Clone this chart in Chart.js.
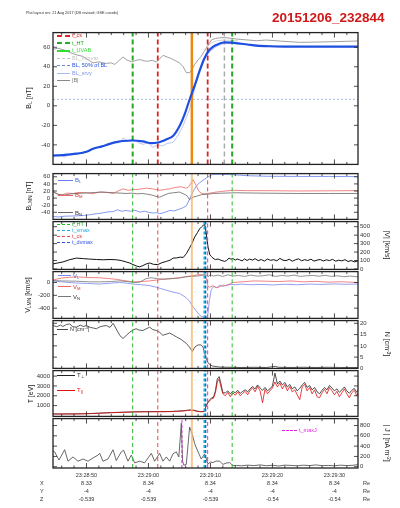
<!DOCTYPE html>
<html>
<head>
<meta charset="utf-8">
<script src="https://cdn.jsdelivr.net/npm/chart.js@4.4.1/dist/chart.umd.min.js"></script>
<style>
  body { margin: 0; background: #fff; }
  #page { position: relative; width: 400px; height: 508px; overflow: hidden; background: #fff;
          font-family: "Liberation Sans", Arial, sans-serif; }
  canvas { position: absolute; left: 0; }
  #over { position: absolute; left: 0; top: 0; width: 400px; height: 508px; z-index: 2; }
  .t { position: absolute; white-space: nowrap; line-height: 1; }
  .lg { position: absolute; white-space: nowrap; font-size: 5.5px; line-height: 6px; }
  .lg i { display: inline-block; vertical-align: middle; width: 13px; height: 0; margin-right: 2px; }
  .yl, .yr { position: absolute; white-space: nowrap; font-size: 7px; line-height: 1; color: #222; }
  .yl { transform: translate(-50%, -50%) rotate(-90deg); }
  .yr { transform: translate(-50%, -50%) rotate(90deg); }
  sub { font-size: 70%; vertical-align: -0.3em; line-height: 0; }
  sup { font-size: 70%; vertical-align: 0.45em; line-height: 0; }
</style>
</head>
<body>
<div id="page">
  <div id="over">
    <div class="t" style="left:26px;top:12px;font-size:3.8px;color:#333">Plot layout rev: 21 Aug 2017 (DB revised; GSE coords)</div>
    <div class="t" style="left:272px;top:11px;font-size:13.5px;font-weight:bold;color:#d01818">20151206_232844</div>

    <!-- panel 1 legend -->
    <div class="lg" style="left:57px;top:32px;color:#dd2222"><i style="border-top:2px dashed #dd2222"></i>t_cs</div>
    <div class="lg" style="left:57px;top:39.5px;color:#22aa22"><i style="border-top:2px dashed #22aa22"></i>t_HT</div>
    <div class="lg" style="left:57px;top:47px;color:#33dd33"><i style="border-top:2px solid #33dd33"></i>t_UVAB</div>
    <div class="lg" style="left:57px;top:54.5px;color:#c4c4c4"><i style="border-top:1.5px dashed #c4c4c4"></i>BL_minvar</div>
    <div class="lg" style="left:57px;top:62px;color:#2050d8"><i style="border-top:1px dashed #6f86dd"></i>BL, 50% of BL</div>
    <div class="lg" style="left:57px;top:69.5px;color:#7f95e6"><i style="border-top:1px solid #a8b8f0"></i>BL_srvy</div>
    <div class="lg" style="left:57px;top:77px;color:#777"><i style="border-top:1px solid #888"></i>|B|</div>

    <!-- panel 2 legend -->
    <div class="lg" style="left:58px;top:177px;color:#4466dd;font-size:6px"><i style="border-top:1px solid #6680ee;width:15px"></i>B<sub>L</sub></div>
    <div class="lg" style="left:58px;top:192px;color:#dd3333;font-size:6px"><i style="border-top:1px solid #ee6666;width:15px"></i>B<sub>M</sub></div>
    <div class="lg" style="left:58px;top:209.5px;color:#333;font-size:6px"><i style="border-top:1px solid #666;width:15px"></i>B<sub>N</sub></div>

    <!-- panel 3 legend -->
    <div class="lg" style="left:57px;top:221px;color:#22aa22"><i style="border-top:1.5px dashed #2eb82e"></i>t_HT</div>
    <div class="lg" style="left:57px;top:227px;color:#1fa8d8"><i style="border-top:1.5px dashed #1fb0e0"></i>t_vmax</div>
    <div class="lg" style="left:57px;top:233px;color:#dd3333"><i style="border-top:1.5px dashed #e84a4a"></i>t_cs</div>
    <div class="lg" style="left:57px;top:239px;color:#3050e0"><i style="border-top:1.5px dashed #3050e0"></i>t_dvmax</div>

    <!-- panel 4 legend -->
    <div class="lg" style="left:58px;top:272.5px;color:#4466dd;font-size:6px"><i style="border-top:1px solid #7788ee"></i>V<sub>L</sub></div>
    <div class="lg" style="left:58px;top:283.5px;color:#dd3333;font-size:6px"><i style="border-top:1px solid #ee6666"></i>V<sub>M</sub></div>
    <div class="lg" style="left:58px;top:293.5px;color:#333;font-size:6px"><i style="border-top:1px solid #777"></i>V<sub>N</sub></div>

    <!-- panel 5 legend -->
    <div class="lg" style="left:57px;top:326px;color:#333"><i style="border-top:1px solid #444;width:11px"></i>N [cm<sup>-3</sup>]</div>

    <!-- panel 6 legend -->
    <div class="lg" style="left:57px;top:372px;color:#222;font-size:6px"><i style="border-top:1px solid #222;width:18px"></i>T<sub>&perp;</sub></div>
    <div class="lg" style="left:57px;top:387px;color:#e01010;font-size:6px"><i style="border-top:1px solid #e01010;width:18px"></i>T<sub>||</sub></div>

    <!-- panel 7 legend -->
    <div class="lg" style="left:282px;top:427px;color:#e020e0"><i style="border-top:1px dashed #e020e0;width:15px"></i>t_maxJ</div>

    <!-- axis titles -->
    <div class="yl" style="left:28px;top:98px">B<sub>L</sub> [nT]</div>
    <div class="yl" style="left:28px;top:196px">B<sub>LMN</sub> [nT]</div>
    <div class="yr" style="left:387px;top:245px">|V| [km/s]</div>
    <div class="yl" style="left:27px;top:295px">V<sub>LMN</sub> [km/s]</div>
    <div class="yr" style="left:387px;top:344px">N [cm<sup>-3</sup>]</div>
    <div class="yl" style="left:30px;top:394px">T [eV]</div>
    <div class="yr" style="left:387px;top:443px">| J | [nA m<sup>-2</sup>]</div>

    <!-- ephemeris row names -->
    <div class="t" style="left:40px;top:480.5px;font-size:5.5px;color:#333">X</div>
    <div class="t" style="left:40px;top:488.8px;font-size:5.5px;color:#333">Y</div>
    <div class="t" style="left:40px;top:497px;font-size:5.5px;color:#333">Z</div>
    <div class="t" style="left:363px;top:480.5px;font-size:5.5px;color:#333">Re</div>
    <div class="t" style="left:363px;top:488.8px;font-size:5.5px;color:#333">Re</div>
    <div class="t" style="left:363px;top:497px;font-size:5.5px;color:#333">Re</div>
  </div>
</div>
<script>
// time axis: seconds after 23:28:00
const X0 = 44.6, X1 = 93.8;
const xMajor = [50, 60, 70, 80, 90];
const xMinor = [46, 48, 52, 54, 56, 58, 62, 64, 66, 68, 72, 74, 76, 78, 82, 84, 86, 88, 92];
const timeLabels = ['23:28:50', '23:29:00', '23:29:10', '23:29:20', '23:29:30'];
const posX = ['8.33', '8.34', '8.34', '8.34', '8.34'];
const posY = ['-4', '-4', '-4', '-4', '-4'];
const posZ = ['-0.539', '-0.539', '-0.539', '-0.54', '-0.54'];

// event times
const tHT = [57.45, 73.5];
const tCS = [61.5, 69.55];
const tBL50 = 67.0;
const tMinvar = 72.25;
const tVmax = 69.0;
const tDvmax = 69.2;
const tMaxJ = 65.4;
const bl50 = 6.7;

// panel 1: B_L
const tBL = [44.6, 46, 48.4, 50, 51.05, 52.5, 53.75, 55, 55.9, 57.5, 59.1, 60.5, 61.55, 62.3, 62.9, 63.95, 65.0, 65.8, 66.6, 67.45, 68.25, 69.05, 69.86, 70.95, 72.3, 73.5, 74.5, 76, 77.4, 79.5, 82, 86, 90, 93.8];
const bL = [-51, -50.5, -49, -47, -44, -41.5, -39, -37, -36, -35.5, -36.5, -38.3, -37.6, -36, -34.3, -31, -21, -9.3, 5.7, 20.7, 35.7, 49, 57.4, 62.4, 65, 64.8, 64, 62.8, 61.7, 61, 60.7, 60.6, 60.6, 60.6];
const tSrvy = [44.6, 45.5, 46.5, 47.5, 48.5, 49.5, 50.5, 51.5, 52.5, 53.5, 54.5, 55.3, 55.9, 56.6, 57.5, 58.3, 59.1, 59.9, 60.7, 61.5, 62.3, 63.0, 63.95, 64.8, 65.55, 66.1, 66.6, 67.2, 68.0, 68.8, 69.9, 70.95, 72, 73.5, 75, 78, 82, 86, 90, 93.8];
const bSrvy = [-52, -50, -52.5, -49, -50, -47, -46, -43.5, -41, -40, -37, -38, -33, -36, -34, -37.5, -39.5, -38, -42.5, -40, -41, -38.5, -37.6, -30, -21, -12, -4.3, 10.7, 32.4, 47.4, 55.7, 60.7, 63.5, 64, 63, 62, 61, 60.8, 60.6, 60.6];
const tBtot = [44.6, 45.4, 46.5, 47.6, 48.5, 49.4, 50.3, 51.05, 52.0, 53.2, 54.0, 54.55, 55.2, 55.9, 56.5, 57.25, 58.0, 58.6, 59.3, 59.9, 60.6, 61.3, 61.8, 62.35, 63.0, 63.7, 64.4, 65.0, 65.6, 66.1, 66.65, 67.0, 67.45, 68.0, 68.5, 69.3, 70.15, 70.8, 71.5, 72.5, 74.2, 77.4, 79, 81.5, 84.4, 87, 89.7, 93.8];
const bTot = [58, 59, 57, 54, 52, 50.7, 47, 44, 45, 43.4, 44, 42.4, 46, 50, 47, 45, 46.5, 47.4, 46, 45.7, 46.5, 45, 48, 51.7, 50, 48.4, 46, 44, 40, 34, 34, 37, 42.4, 47, 50.7, 59, 67.4, 69, 69.7, 69.8, 68.4, 66.7, 67.4, 66.2, 65, 65.3, 65.7, 66.4];
const tMv = [69.3, 70.2, 71.0, 72.0, 73.0, 74.5];
const bMv = [60, 64.5, 66.5, 67.3, 67.2, 66.5];

// panel 2: B_LMN
const tB2L = [44.6, 45.5, 46.5, 47.5, 48.4, 49.5, 50.5, 51.6, 52.5, 53.4, 54.3, 55.0, 55.7, 56.4, 57.1, 57.8, 58.6, 59.4, 60.0, 60.7, 61.3, 61.8, 62.5, 63.4, 64.2, 65.0, 65.6, 66.1, 66.5, 66.9, 67.3, 67.7, 68.2, 68.8, 69.5, 70.4, 71.5, 73.6, 76, 79, 84, 89, 93.8];
const b2L = [-52, -53, -51, -50.5, -50, -49, -47, -44, -42, -39, -38, -33, -37, -35, -37, -34, -39.5, -37, -40, -42, -41, -44, -41, -35, -36, -31, -27, -22, -8, 8, 22, 33, 43, 50, 59, 67, 67, 66, 63, 61.5, 61, 61, 60.5];
const tB2M = [44.6, 45.3, 46.0, 46.8, 47.8, 48.8, 50.0, 51.0, 52.1, 53.2, 54.3, 55.1, 55.9, 56.7, 57.5, 58.5, 59.65, 60.7, 61.8, 62.6, 63.4, 64.3, 65.3, 66.0, 66.4, 66.8, 67.2, 67.7, 68.1, 68.5, 69.0, 69.6, 70.9, 72.5, 73.6, 76, 79, 84, 89, 93.8];
const b2M = [20, 12, 8, 14, 13, 16, 15, 12, 17, 16, 13, 20, 26, 22, 24, 25, 28, 26, 22, 24, 26, 30, 32, 28, 30, 40, 52, 35, 20, 14, 12, 13, 17, 20, 22, 21, 21, 20, 20.5, 21];
const tB2N = [44.6, 45.5, 46.5, 47.5, 48.5, 49.5, 50.5, 51.5, 52.5, 53.5, 54.5, 55.5, 56.4, 57.3, 58.2, 59.0, 59.8, 60.5, 61.2, 61.8, 62.5, 63.2, 64.0, 65.0, 66.0, 66.3, 66.6, 67.2, 67.9, 68.6, 69.5, 70.5, 72, 74, 78, 84, 89, 93.8];
const b2N = [17, 10, 8.7, 12, 13, 14, 15, 16, 17, 16, 15, 14, 13, 14, 12, 13, 11, 8.7, 5, 2.6, 8, 13, 15, 17, 9, 5, -4, 2.6, 6, 10, 11, 13, 14, 15, 14, 13, 13, 13];

// panel 3: |V|
const tV = [44.6, 45.3, 46.2, 47.3, 48.4, 49.5, 50.5, 51.6, 52.7, 53.8, 54.8, 55.6, 56.4, 57.0, 57.5, 58.1, 58.6, 59.1, 59.65, 60.2, 60.8, 61.5, 62.2, 62.9, 63.5, 64.0, 64.5, 65.1, 65.6, 66.1, 66.6, 67.0, 67.45, 67.9, 68.25, 68.6, 68.9, 69.05, 69.3, 69.6, 69.9, 70.15, 70.4, 70.8, 71.2, 71.5, 71.9, 72.3, 72.6, 73.0, 73.3, 73.6, 74.0, 74.3, 74.7, 75.1, 75.5, 75.9, 76.3, 76.8, 77.2, 77.7, 78.2, 78.7, 79.2, 79.7, 80.2, 80.7, 81.2, 81.7, 82.2, 82.7, 83.2, 83.7, 84.2, 84.7, 85.2, 85.7, 86.2, 86.7, 87.2, 87.7, 88.2, 88.7, 89.2, 89.7, 90.2, 90.7, 91.2, 91.7, 92.2, 92.7, 93.2, 93.8];
const vMag = [60, 70, 83, 110, 129, 122, 117, 112, 109, 112, 109, 100, 83, 70, 52, 35, 25, 40, 60, 71, 55, 52, 75, 90, 105, 129, 130, 140, 136, 180, 244, 300, 377, 430, 474, 500, 520, 531, 434, 262, 167, 147, 129, 110, 118, 109, 98, 90, 100, 129, 115, 125, 105, 118, 109, 95, 120, 100, 117, 105, 122, 98, 112, 93, 118, 102, 110, 96, 125, 104, 99, 115, 92, 108, 120, 97, 110, 100, 116, 93, 105, 112, 95, 108, 99, 114, 92, 104, 96, 110, 88, 100, 84, 95];

// panel 4: V_LMN
const tVL = [44.6, 46, 48.4, 50.2, 52.1, 54, 55.35, 56.5, 57.5, 58.8, 60.2, 61.5, 62.9, 64, 65, 66, 66.6, 67.2, 67.7, 68.3, 68.8, 69.3, 69.55, 69.8, 70.1, 70.5, 71.0, 71.5, 72.0, 72.6, 73.3, 74, 75, 76.5, 78, 80, 82, 84, 86, 88, 90, 92, 93.8];
const vL = [25, 10, -9, -15, -24, -10, 0, -10, -24, -35, -49, -80, -122, -150, -171, -230, -290, -380, -441, -515, -538, -553, -520, -300, -120, -60, -80, -45, -60, -40, -30, -35, -25, -35, -30, -38, -28, -35, -25, -30, -22, -28, -24];
const tVM = [44.6, 46, 47.2, 48.4, 50, 52.1, 53.5, 54.8, 56, 57.5, 58.8, 60.2, 61.5, 62.9, 64, 65, 66, 67.2, 68.3, 69.1, 69.4, 69.6, 69.9, 70.4, 70.9, 71.3, 72, 72.6, 73.6, 75, 77, 79, 81, 83, 85, 87, 89, 91, 93.8];
const vM = [40, 70, 80, 88, 78, 74, 62, 50, 30, 10, 15, 25, 40, 59, 65, 74, 90, 109, 124, 109, 40, -60, -74, -49, -80, -74, -40, -49, 0, 10, 25, 20, 15, 25, 10, 18, 5, 12, 0];
const tVN = [44.6, 46, 48.4, 50.5, 52.1, 54, 55.4, 56.6, 57.8, 58.6, 59.6, 60.4, 61.5, 62.6, 63.8, 65.0, 66.0, 67.0, 67.8, 68.5, 69.2, 69.6, 70.0, 70.5, 71.2, 72.0, 72.8, 73.6, 74.5, 75.5, 76.5, 77.5, 78.5, 79.5, 80.5, 81.5, 82.5, 83.5, 84.5, 85.5, 86.5, 87.5, 88.5, 89.5, 90.5, 91.5, 92.5, 93.8];
const vN = [30, 25, 20, 10, 10, 15, 25, 15, 0, 5, 60, 74, 60, 50, 60, 70, 88, 95, 100, 110, 132, 90, 120, 100, 115, 95, 120, 100, 110, 95, 115, 100, 105, 120, 95, 110, 100, 115, 95, 105, 110, 98, 112, 95, 105, 90, 100, 88];

// panel 5: N
const tDens = [44.6, 45.2, 45.8, 46.2, 46.8, 47.3, 47.8, 48.4, 49.0, 49.5, 50.0, 50.6, 51.1, 51.6, 52.2, 52.7, 53.2, 53.8, 54.3, 54.8, 55.4, 55.9, 56.5, 57.0, 57.5, 58.0, 58.5, 59.1, 59.6, 60.2, 60.7, 61.3, 61.8, 62.3, 62.9, 63.4, 64.0, 64.5, 65.3, 66.1, 66.6, 67.07, 67.5, 67.99, 68.5, 68.8, 69.06, 69.3, 69.6, 70.0, 70.4, 71.5, 73, 75, 77, 79, 80.5, 81, 83, 85, 87, 89, 91, 93.8];
const dens = [19, 18.5, 19.2, 18.6, 19.5, 19.7, 18.5, 18.3, 19.2, 18.6, 19, 18.2, 17.9, 17.6, 18.5, 18.8, 19, 18.2, 20, 17.5, 14.5, 13.3, 14.8, 16.1, 17.0, 17.6, 17.0, 16.8, 17.5, 18.3, 17.2, 16.8, 16.0, 14.7, 15.2, 15.7, 14.8, 14, 12.8, 11.1, 9.5, 7.5, 9.5, 10.4, 10.4, 9.5, 6.8, 4.5, 2.5, 1.5, 1, 0.6, 0.5, 0.4, 0.5, 0.4, 0.9, 0.5, 0.4, 0.5, 0.4, 0.5, 0.4, 0.4];

// panel 6: T
const tT = [44.6, 46, 48, 50, 52, 54, 56, 58, 60, 62, 63.5, 64.5, 65.5, 66.3, 66.8, 67.3, 67.8, 68.4, 69.0, 69.3, 69.6, 69.9, 70.2, 70.5, 70.8, 71.1, 71.4, 71.7,
  72.0, 72.4, 72.8, 73.2, 73.6, 74.0, 74.4, 74.8, 75.2, 75.6, 76.0, 76.4, 76.8, 77.2, 77.6, 78.0, 78.4, 78.8, 79.2, 79.6,
  80.0, 80.4, 80.8, 81.2, 81.6, 82.0, 82.4, 82.8, 83.2, 83.6, 84.0, 84.4, 84.8, 85.2, 85.6, 86.0, 86.4, 86.8, 87.2, 87.6,
  88.0, 88.4, 88.8, 89.2, 89.6, 90.0, 90.4, 90.8, 91.2, 91.6, 92.0, 92.4, 92.8, 93.2, 93.6, 93.8];
const tPerp = [150, 150, 160, 180, 230, 290, 330, 370, 385, 390, 400, 430, 470, 530, 560, 530, 440, 390, 400, 1000, 1350, 1600, 1800, 1850, 2500, 3700, 3950, 3200,
  2300, 2300, 2500, 2200, 2450, 2300, 2550, 2250, 2450, 2600, 2400, 2700, 2950, 2700, 3100, 2800, 2550, 2850, 2500, 2700,
  3000, 4300, 3200, 3500, 3100, 3350, 2900, 3150, 2700, 2900, 2500, 2750, 3100, 3350, 2850, 3050, 2600, 2850, 2400, 2200,
  2550, 2850, 2600, 3050, 2800, 2500, 2700, 2350, 2600, 2900, 2500, 2250, 2550, 2750, 2350, 2600];
const tPar = [140, 140, 150, 170, 215, 275, 315, 355, 370, 375, 385, 410, 445, 500, 520, 500, 420, 375, 390, 950, 1300, 1500, 1700, 1750, 2300, 3400, 3700, 2900,
  2200, 2000, 2350, 1900, 2300, 2050, 2400, 2000, 2250, 2450, 2100, 2550, 2800, 2400, 2950, 2500, 1300, 2650, 2200, 2500,
  2800, 3400, 2900, 3300, 2700, 3150, 2500, 2950, 2400, 2600, 2100, 1600, 2900, 3150, 2500, 2850, 2200, 2600, 1900, 1800,
  2300, 2650, 2200, 2850, 2500, 2100, 2450, 1900, 2300, 2700, 2200, 1800, 2300, 2550, 2000, 2300];

// panel 7: |J|
const tJ = [44.6, 44.87, 45.57, 46.48, 47.02, 47.83, 48.63, 49.44, 50.25, 51.05, 51.86, 52.13, 52.66, 53.47, 54.28, 54.81, 55.62, 56.0, 56.7, 57.23, 57.77, 58.58, 59.38, 60.46, 61.0, 61.8, 62.34, 62.88, 63.42, 63.95, 64.49, 64.9, 65.3, 65.5, 65.7, 66.1, 66.64, 66.85, 67.07, 67.45, 67.99, 68.52, 69.06, 69.6, 70.0, 70.4, 70.9, 71.48, 72.02, 72.5, 73.1, 73.63, 74.2, 75, 76, 77, 78, 79, 80, 81, 82, 83, 84, 85, 86, 87, 88, 89, 90, 91, 92, 93, 93.8];
const jMag = [300, 288, 129, 330, 107, 190, 107, 150, 107, 170, 225, 260, 107, 150, 330, 120, 290, 320, 107, 225, 75, 107, 75, 260, 107, 260, 107, 190, 107, 250, 290, 190, 845, 107, 30, 45, 770, 700, 630, 450, 290, 150, 250, 55, 90, 80, 110, 107, 45, 70, 80, 20, 25, 18, 30, 22, 35, 20, 28, 15, 30, 25, 18, 30, 22, 35, 20, 25, 18, 30, 22, 28, 40];

Chart.defaults.font.family = '"Liberation Sans", Arial, sans-serif';
const page = document.getElementById('page');

function series(t, v, color, width, extra) {
  return Object.assign({
    data: t.map((x, i) => ({ x, y: v[i] })),
    borderColor: color, borderWidth: width, showLine: true, pointRadius: 0, order: 2
  }, extra || {});
}
function vline(t, range, color, width, dash) {
  return { data: [{ x: t, y: range[0] }, { x: t, y: range[1] }], borderColor: color, borderWidth: width,
           borderDash: dash || [], showLine: true, pointRadius: 0, order: 1 };
}
function lowerMarks(range, withV) {
  const out = [];
  tHT.forEach(t => out.push(vline(t, range, '#2eb82e', 1, [4, 3])));
  tCS.forEach(t => out.push(vline(t, range, '#e84a4a', 1, [4, 3])));
  out.push(vline(tBL50, range, 'rgba(245,180,110,0.75)', 2));
  if (withV) {
    out.push(vline(tVmax, range, '#1fb0e0', 1.6, [3, 2]));
    out.push(vline(tDvmax, range, '#3050e0', 1.6, [3, 2]));
  }
  return out;
}

const frame = {
  id: 'frame',
  afterDatasetsDraw(chart) {
    const { ctx, chartArea: a } = chart;
    const x = chart.scales.x, y = chart.scales.y;
    ctx.save();
    ctx.strokeStyle = '#222';
    ctx.lineWidth = 0.8;
    ctx.beginPath();
    xMajor.forEach(v => {
      const p = x.getPixelForValue(v);
      ctx.moveTo(p, a.top); ctx.lineTo(p, a.top + 5);
      ctx.moveTo(p, a.bottom); ctx.lineTo(p, a.bottom - 5);
    });
    xMinor.forEach(v => {
      const p = x.getPixelForValue(v);
      ctx.moveTo(p, a.top); ctx.lineTo(p, a.top + 2.5);
      ctx.moveTo(p, a.bottom); ctx.lineTo(p, a.bottom - 2.5);
    });
    y.ticks.forEach(tk => {
      const p = y.getPixelForValue(tk.value);
      ctx.moveTo(a.left, p); ctx.lineTo(a.left + 4, p);
      ctx.moveTo(a.right, p); ctx.lineTo(a.right - 4, p);
    });
    ctx.stroke();
    ctx.lineWidth = 1.3;
    ctx.strokeRect(a.left, a.top, a.right - a.left, a.bottom - a.top);
    ctx.restore();
  }
};

function panel(top, bottom, side, range, yTicks, datasets, bottomAxis) {
  const pad = 5;
  const c = document.createElement('canvas');
  const h = bottomAxis ? 508 - (top - pad) : bottom - top + 2 * pad;
  c.width = 400; c.height = h;
  c.style.top = (top - pad) + 'px';
  c.style.width = '400px'; c.style.height = h + 'px';
  page.insertBefore(c, document.getElementById('over'));
  new Chart(c, {
    type: 'scatter',
    data: { datasets },
    options: {
      responsive: false, animation: false, devicePixelRatio: 1,
      layout: { padding: { top: pad, bottom: bottomAxis ? 0 : pad, left: side === 'right' ? 53 : 0, right: side === 'left' ? 42 : 0 } },
      plugins: { legend: { display: false }, tooltip: { enabled: false } },
      scales: {
        x: {
          type: 'linear', min: X0, max: X1, display: !!bottomAxis,
          grid: { display: false, drawTicks: false }, border: { display: false },
          afterBuildTicks: s => { s.ticks = xMajor.map(v => ({ value: v })); },
          afterFit: s => { s.height = bottomAxis ? 40 : 0; },
          ticks: { font: { size: 5.5, lineHeight: 1.5 }, color: '#333', padding: 3, maxRotation: 0, autoSkip: false,
                   callback: (v, i) => [timeLabels[i], posX[i], posY[i], posZ[i]] }
        },
        y: {
          position: side, min: range[0], max: range[1],
          grid: { display: false, drawTicks: false }, border: { display: false },
          afterBuildTicks: s => { s.ticks = yTicks.map(v => ({ value: v })); },
          afterFit: s => { s.width = side === 'left' ? 53 : 42; },
          ticks: { font: { size: 6 }, color: '#333', padding: side === 'left' ? 3 : 2, autoSkip: false, callback: v => String(v) }
        }
      }
    },
    plugins: [frame]
  });
}

// panel 1
const r1 = [-60, 75];
panel(31, 166, 'left', r1, [-40, -20, 0, 20, 40, 60], [
  vline(tHT[0], r1, '#22aa22', 2, [5, 3]), vline(tHT[1], r1, '#22aa22', 2, [5, 3]),
  vline(tCS[0], r1, '#dd2222', 1.8, [5, 3]), vline(tCS[1], r1, '#dd2222', 1.8, [5, 3]),
  vline(tBL50, r1, '#ee8811', 2.5),
  vline(tMinvar, r1, '#aaaaaa', 1.5, [5, 3]),
  series([X0, X1], [bl50, bl50], '#8fa0dd', 0.8, { borderDash: [2, 2] }),
  series(tMv, bMv, '#c8c8c8', 0.8),
  series(tBtot, bTot, '#888888', 0.8),
  series(tSrvy, bSrvy, '#a8b8f0', 0.8),
  series(tBL, bL, '#1f4fe0', 2.2, { cubicInterpolationMode: 'monotone', order: 0 })
]);

// panel 2
const r2 = [-60, 69];
panel(172, 221, 'left', r2, [-40, -20, 0, 20, 40, 60], [
  ...lowerMarks(r2, false),
  series(tB2N, b2N, '#666666', 0.8),
  series(tB2M, b2M, '#ee6666', 0.8),
  series(tB2L, b2L, '#6680ee', 0.8)
]);

// panel 3
const r3 = [-5, 560];
panel(221, 270, 'right', r3, [0, 100, 200, 300, 400, 500], [
  ...lowerMarks(r3, true),
  series(tV, vMag, '#111111', 1)
]);

// panel 4
const r4 = [-560, 170];
panel(270, 320, 'left', r4, [-400, -200, 0], [
  ...lowerMarks(r4, true),
  series(tVN, vN, '#777777', 0.8),
  series(tVM, vM, '#ee6666', 0.8),
  series(tVL, vL, '#7788ee', 0.8)
]);

// panel 5
const r5 = [0, 21.2];
panel(320, 369, 'right', r5, [0, 5, 10, 15, 20], [
  ...lowerMarks(r5, true),
  series(tDens, dens, '#333333', 0.8)
]);

// panel 6
const r6 = [-100, 4560];
panel(369, 418, 'left', r6, [1000, 2000, 3000, 4000], [
  ...lowerMarks(r6, true),
  series(tT, tPar, '#e01010', 0.8),
  series(tT, tPerp, '#222222', 0.8)
]);

// panel 7
const r7 = [-25, 935];
panel(418, 468, 'right', r7, [0, 200, 400, 600, 800], [
  ...lowerMarks(r7, true),
  vline(tMaxJ, r7, '#e020e0', 1, [3, 2]),
  series(tJ, jMag, '#444444', 0.8)
], true);
</script>
</body>
</html>
